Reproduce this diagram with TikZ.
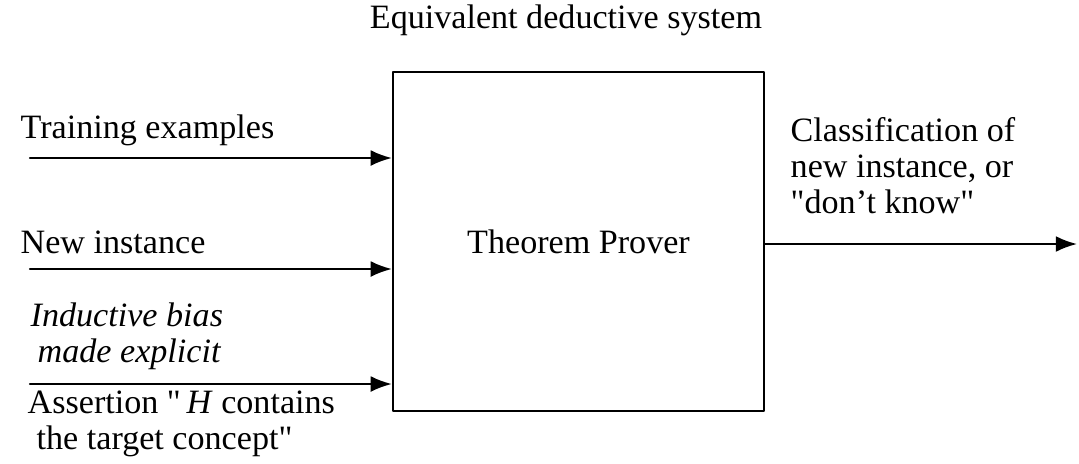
\documentclass[tikz,border=0pt]{standalone}
\usepackage{fontspec}
\setmainfont{Liberation Serif}
\usetikzlibrary{arrows.meta}
\tikzset{
  prover box/.style={draw, line width=0.6pt, minimum width=3.71cm,
    minimum height=3.39cm, inner sep=0pt},
  feed/.style={line width=0.6pt, -{Latex[length=6pt,width=4.5pt]}},
  side label/.style={anchor=base west, inner sep=0pt, align=left}
}

\begin{document}
\begin{tikzpicture}[x=0.01cm, y=-0.01cm, line cap=round, line join=round,
  font=\fontsize{9.7}{10.2}\selectfont]

  % Page frame (pixel grid, y pointing down)
  \useasboundingbox (0,0) rectangle (1079,463);

  % The deductive box and its title
  \node[prover box] (prover) at (578.5,241.5) {Theorem Prover};
  \node[anchor=base] (title) at (566,28) {Equivalent deductive system};

  % Free ends of the connectors
  \coordinate (in1) at (30,158);
  \coordinate (in2) at (30,269);
  \coordinate (in3) at (30,384);
  \coordinate (out) at (1077,244);

  % Inputs
  \draw[feed] (in1) -- (in1 -| prover.west);
  \draw[feed] (in2) -- (in2 -| prover.west);
  \draw[feed] (in3) -- (in3 -| prover.west);

  % Output
  \draw[feed] (out -| prover.east) -- (out);

  % Labels (base = baseline of the last line)
  \node[side label] (train) at (20,138) {Training examples};
  \node[side label] (newinst) at (20,253) {New instance};
  \node[side label, font=\fontsize{9.7}{10.2}\selectfont\itshape] (bias) at (30,362)
    {Inductive bias\\\hspace*{0.07cm}made explicit};
  \node[side label] (assert) at (27,449)
    {Assertion \textquotedbl\,\textit{H} contains\\\hspace*{0.09cm}the target concept\textquotedbl};
  \node[side label] (result) at (790,213)
    {Classification of\\new instance, or\\\textquotedbl don't know\textquotedbl};
\end{tikzpicture}
\end{document}
